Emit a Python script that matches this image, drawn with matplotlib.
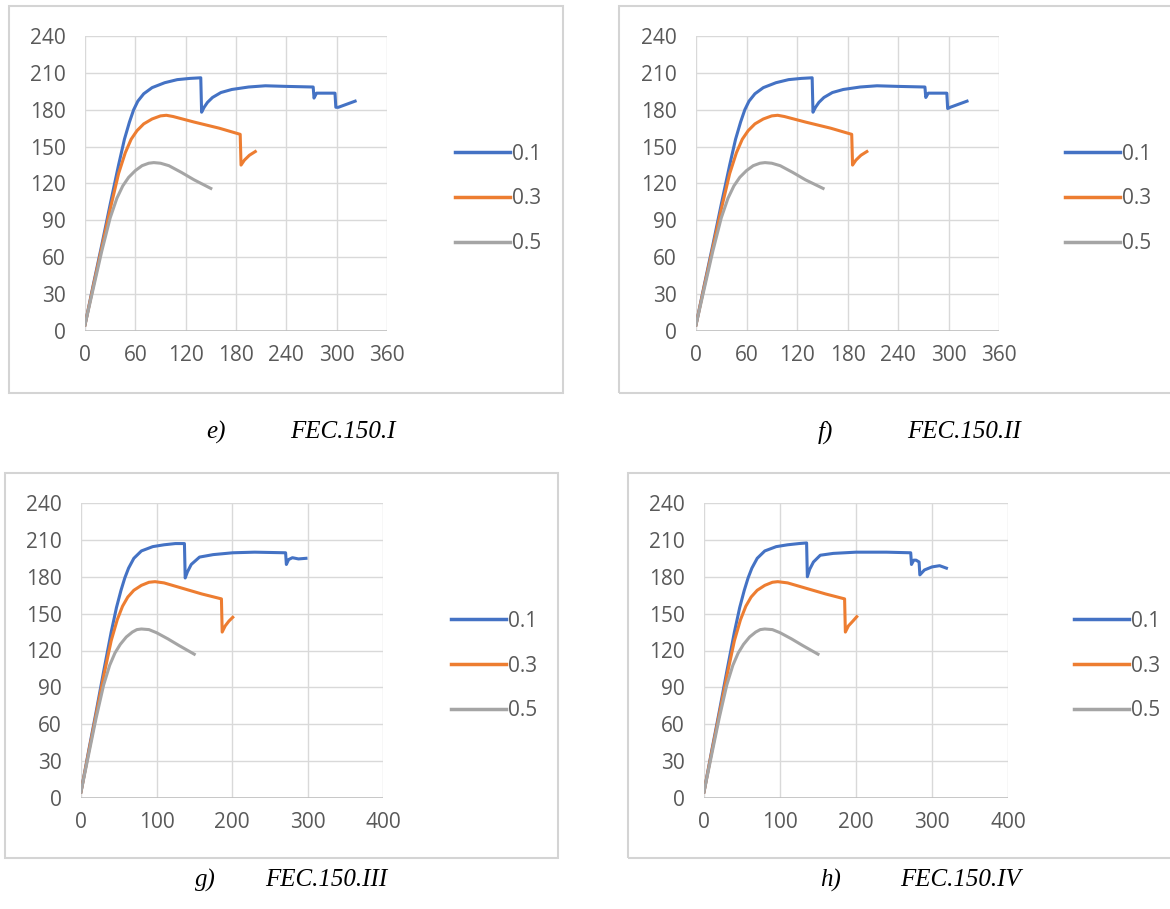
import matplotlib
matplotlib.use("Agg")
import matplotlib.pyplot as plt
from matplotlib.patches import Rectangle

# ---- data ----
series_names = ["0.1", "0.3", "0.5"]
captions = ["e)", "f)", "g)", "h)"]
titles = ["FEC.150.I", "FEC.150.II", "FEC.150.III", "FEC.150.IV"]

# e) FEC.150.I
e_x1 = [0, 10, 20, 30, 40, 47, 53, 58, 63, 70, 80, 95, 110, 125, 138, 139, 142, 146, 152, 162, 175, 195, 215, 240, 272, 273, 276, 298, 299, 302, 310, 322]
e_y1 = [5, 38, 70, 103, 135, 156, 170, 180, 187, 193, 198, 202, 204.5, 205.5, 206, 178, 182, 186, 190, 194, 196.5, 198.5, 199.5, 199, 198.5, 189.5, 193.5, 193.5, 182, 182, 184, 187]
e_x3 = [0, 10, 20, 30, 40, 48, 55, 62, 70, 80, 90, 97, 105, 130, 160, 185, 186, 190, 196, 203]
e_y3 = [5, 37, 68, 99, 128, 145, 156, 163, 168.5, 172.5, 175, 175.5, 174.5, 170, 165, 160, 135, 139, 143, 146]
e_x5 = [0, 10, 20, 30, 38, 45, 52, 60, 68, 76, 82, 90, 100, 115, 130, 150]
e_y5 = [5, 35, 65, 92, 108, 118, 125, 130.5, 134.5, 136.5, 137, 136.5, 134.5, 129, 123, 116]

# f) FEC.150.II
f_x1 = [0, 10, 20, 30, 40, 47, 53, 58, 63, 70, 80, 95, 110, 125, 138, 139, 142, 146, 152, 162, 175, 195, 215, 240, 272, 273, 276, 298, 299, 302, 310, 322]
f_y1 = [5, 38, 70, 103, 135, 156, 170, 180, 187, 193, 198, 202, 204.5, 205.5, 206, 178, 182, 186, 190, 194, 196.5, 198.5, 199.5, 199, 198.5, 190, 193.5, 193.5, 181, 182, 184, 187]
f_x3 = [0, 10, 20, 30, 40, 48, 55, 62, 70, 80, 90, 97, 105, 130, 160, 185, 186, 190, 196, 203]
f_y3 = [5, 37, 68, 99, 128, 145, 156, 163, 168.5, 172.5, 175, 175.5, 174.5, 170, 165, 160, 135, 139, 143, 146]
f_x5 = [0, 10, 20, 30, 38, 45, 52, 60, 68, 76, 82, 90, 100, 115, 130, 151]
f_y5 = [5, 35, 65, 92, 108, 118, 125, 130.5, 134.5, 136.5, 137, 136.5, 134.5, 129, 123, 116]

# g) FEC.150.III
g_x1 = [0, 10, 20, 30, 40, 47, 53, 58, 63, 70, 80, 95, 110, 125, 137, 138, 141, 146, 157, 175, 201, 230, 271, 272, 275, 280, 288, 298]
g_y1 = [5, 38, 70, 103, 135, 155, 169, 179, 187, 195, 201, 204.5, 206, 207, 207, 179, 184, 190, 196, 198, 199.5, 200, 199.5, 190, 194, 195.5, 194.5, 195]
g_x3 = [0, 10, 20, 30, 40, 48, 55, 62, 70, 80, 90, 98, 110, 135, 160, 186, 187, 191, 196, 201]
g_y3 = [5, 37, 68, 99, 128, 145, 156, 163.5, 169, 173, 175.5, 176, 175, 170.5, 166, 162, 135, 140, 144, 147]
g_x5 = [0, 10, 20, 30, 38, 45, 52, 60, 68, 74, 80, 90, 100, 115, 130, 150]
g_y5 = [5, 35, 65, 92, 108, 118, 125, 131, 135, 137, 137.5, 137, 134.5, 129.5, 124, 117]

# h) FEC.150.IV
h_x1 = [0, 10, 20, 30, 40, 47, 53, 58, 63, 70, 80, 95, 110, 125, 135, 136, 139, 144, 153, 170, 200, 240, 272, 273, 276, 279, 283, 284, 290, 300, 310, 319]
h_y1 = [5, 38, 70, 103, 135, 155, 169, 179, 187, 195, 201, 204.5, 206, 207, 207.5, 180, 186, 192, 197.5, 199, 200, 200, 199.5, 190, 193.5, 193.5, 192, 181.5, 185.5, 188, 189, 187]
h_x3 = [0, 10, 20, 30, 40, 48, 55, 62, 70, 80, 90, 97, 110, 135, 160, 185, 186, 190, 196, 201]
h_y3 = [5, 37, 68, 99, 128, 145, 156, 163.5, 169, 173, 175.5, 176, 175, 170.5, 166, 162, 135, 140, 144, 147.5]
h_x5 = [0, 10, 20, 30, 38, 45, 52, 60, 68, 74, 80, 90, 100, 115, 130, 150]
h_y5 = [5, 35, 65, 92, 108, 118, 125, 131, 135, 137, 137.5, 137, 134.5, 129.5, 124, 117]

colors = ["#4472C4", "#ED7D31", "#A5A5A5"]

W, H = 1170, 909
fig = plt.figure(figsize=(W / 100, H / 100), dpi=100)

def fx(px):
    return px / W

def fy(py):
    return 1 - py / H

panels = [
    # data, axes box (left, top, right, bottom px), xmax, xstep, border, legend anchor, caption pos
    ([(e_x1, e_y1), (e_x3, e_y3), (e_x5, e_y5)], (85, 36, 387, 331), 360, 60, (9, 6, 563, 393), (445, 199), (216, 290, 432)),
    ([(f_x1, f_y1), (f_x3, f_y3), (f_x5, f_y5)], (696, 36, 999, 331), 360, 60, (619, 6, 1175, 393), (1055, 199), (825, 907, 432)),
    ([(g_x1, g_y1), (g_x3, g_y3), (g_x5, g_y5)], (81, 503, 383, 798), 400, 100, (5, 473, 558, 858), (441, 666), (205, 265, 880)),
    ([(h_x1, h_y1), (h_x3, h_y3), (h_x5, h_y5)], (704, 503, 1008, 798), 400, 100, (628, 473, 1175, 858), (1064, 666), (831, 900, 880)),
]

for i, (data, box, xmax, xstep, border, leg, cap) in enumerate(panels):
    bl, bt, br, bb = border
    fig.patches.append(Rectangle((fx(bl), fy(bb)), fx(br - bl), (bb - bt) / H,
                                 transform=fig.transFigure, fill=False,
                                 edgecolor="#D4D4D4", linewidth=1.5))
    l, t, r, b = box
    ax = fig.add_axes([fx(l), fy(b), fx(r - l), (b - t) / H])
    for (xs, ys), c, name in zip(data, colors, series_names):
        ax.plot(xs, ys, color=c, linewidth=2.2, label=name, solid_joinstyle="round")
    ax.set_xlim(0, xmax)
    ax.set_ylim(0, 240)
    ax.set_xticks(range(0, xmax + 1, xstep))
    ax.set_yticks(range(0, 241, 30))
    ax.grid(True, color="#D9D9D9", linewidth=1.0)
    ax.set_axisbelow(True)
    for s in ax.spines.values():
        s.set_visible(False)
    ax.axhline(0, color="#BFBFBF", linewidth=1.2, zorder=1)
    ax.tick_params(length=0, labelsize=15, labelcolor="#595959", pad=10)
    for lab in ax.get_xticklabels() + ax.get_yticklabels():
        lab.set_fontfamily("Open Sans")
    ax.tick_params(axis="y", pad=14)
    lg = ax.legend(loc="center left", bbox_to_anchor=(fx(leg[0]), fy(leg[1])),
                   bbox_transform=fig.transFigure, frameon=False, borderpad=0,
                   handlelength=2.6, handletextpad=0.1, labelspacing=1.14,
                   prop={"family": "Open Sans", "size": 15})
    for txt in lg.get_texts():
        txt.set_color("#595959")
    for ln in lg.get_lines():
        ln.set_linewidth(2.5)

    cx, tx, cy = cap
    fig.text(fx(cx), fy(cy), captions[i], ha="center", va="center",
             family="Liberation Serif", style="italic", fontsize=18)
    fig.text(fx(tx), fy(cy), titles[i], ha="left", va="center",
             family="Liberation Serif", style="italic", fontsize=18)

fig.savefig("out.png", dpi=100, facecolor="white")
